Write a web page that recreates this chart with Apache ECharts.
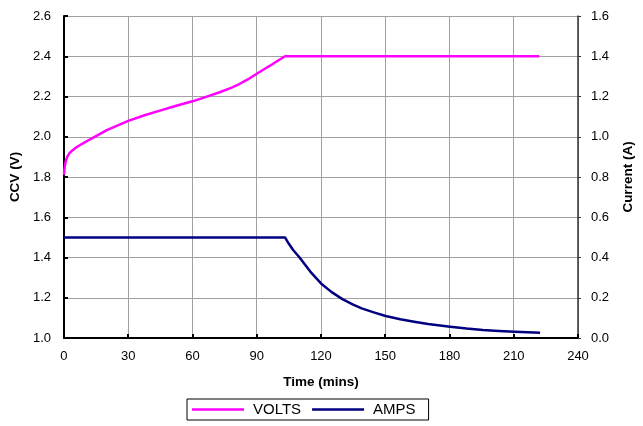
<!DOCTYPE html>
<html>
<head>
<meta charset="utf-8">
<script src="https://cdn.jsdelivr.net/npm/echarts@6/dist/echarts.min.js"></script>
<style>html,body{margin:0;padding:0;background:#fff}#c{width:643px;height:426px}</style>
</head>
<body>
<div id="c"></div>
<script>
// Time (mins) and values
const voltTimes = [0, 0.3, 0.8, 1.5, 2.5, 3.9, 6, 8.5, 11, 13.7, 20, 30, 38, 45.2, 52, 60, 66, 72.7, 78, 81.9, 86, 90, 94, 97.1, 100, 103.2, 120, 150, 180, 210, 222];
const volts     = [1.81, 1.847, 1.877, 1.9, 1.917, 1.932, 1.949, 1.965, 1.98, 1.996, 2.033, 2.079, 2.108, 2.131, 2.153, 2.176, 2.197, 2.221, 2.243, 2.262, 2.286, 2.313, 2.339, 2.359, 2.379, 2.4, 2.4, 2.4, 2.4, 2.4, 2.4];
const ampTimes  = [0, 30, 60, 90, 103.2, 105, 107, 110, 115, 120, 125, 130, 135, 139, 145, 150.2, 157, 163.5, 170, 180.3, 188, 195.6, 203, 210.4, 222.3];
const amps      = [0.5, 0.5, 0.5, 0.5, 0.5, 0.468, 0.437, 0.4, 0.33, 0.271, 0.228, 0.193, 0.166, 0.147, 0.126, 0.109, 0.093, 0.081, 0.07, 0.056, 0.047, 0.04, 0.035, 0.031, 0.026];
const xTicks = [0, 30, 60, 90, 120, 150, 180, 210, 240];

const font = 'Liberation Sans, Arial, sans-serif';
const chart = echarts.init(document.getElementById('c'), null, {renderer: 'canvas'});
chart.setOption({
  animation: false,
  backgroundColor: '#ffffff',
  grid: {left: 63, right: 56, top: 16, bottom: 88, containLabel: false},
  legend: {
    data: ['VOLTS', 'AMPS'],
    top: 399, left: 187,
    borderColor: '#000', borderWidth: 1,
    padding: [3, 13, 3, 5],
    icon: 'rect',
    itemWidth: 52, itemHeight: 2.5, itemGap: 11,
    textStyle: {fontFamily: font, fontSize: 15, color: '#000', padding: [0, 0, 0, 4]}
  },
  xAxis: {
    type: 'value', min: 0, max: 240, interval: 30,
    name: 'Time (mins)', nameLocation: 'middle', nameGap: 37,
    nameTextStyle: {fontFamily: font, fontSize: 13.5, fontWeight: 'bold', color: '#000'},
    axisLine: {show: true, onZero: false, lineStyle: {color: '#000', width: 2}},
    axisTick: {show: true, inside: true, length: 4, lineStyle: {color: '#000', width: 2}},
    axisLabel: {fontFamily: font, fontSize: 13, color: '#000', margin: 12,
      formatter: v => xTicks.includes(v) ? String(v) : ''},
    splitLine: {show: true, lineStyle: {color: '#a0a0a0', width: 1}}
  },
  yAxis: [{
    type: 'value', min: 1.0, max: 2.6, interval: 0.2,
    name: 'CCV (V)', nameLocation: 'middle', nameGap: 41,
    nameTextStyle: {fontFamily: font, fontSize: 13.5, fontWeight: 'bold', color: '#000'},
    axisLine: {show: true, lineStyle: {color: '#000', width: 2}},
    axisTick: {show: true, inside: true, length: 4, lineStyle: {color: '#000', width: 2}},
    axisLabel: {fontFamily: font, fontSize: 13, color: '#000', margin: 13, formatter: v => v.toFixed(1)},
    splitLine: {show: true, lineStyle: {color: '#a0a0a0', width: 1}}
  }, {
    type: 'value', min: 0, max: 1.6, interval: 0.2, position: 'right',
    name: 'Current (A)', nameLocation: 'middle', nameGap: 43,
    nameTextStyle: {fontFamily: font, fontSize: 13.5, fontWeight: 'bold', color: '#000'},
    axisLine: {show: true, lineStyle: {color: '#333', width: 1.5}},
    axisTick: {show: true, length: 3, lineStyle: {color: '#333'}},
    axisLabel: {fontFamily: font, fontSize: 13, color: '#000', margin: 13, formatter: v => v.toFixed(1)},
    splitLine: {show: false}
  }],
  series: [{
    name: 'VOLTS', type: 'line', yAxisIndex: 0, symbol: 'none', smooth: false,
    data: voltTimes.map((t, i) => [t, volts[i]]),
    lineStyle: {color: '#ff00ff', width: 2.5, join: 'round'}, itemStyle: {color: '#ff00ff'}
  }, {
    name: 'AMPS', type: 'line', yAxisIndex: 1, symbol: 'none', smooth: false,
    data: ampTimes.map((t, i) => [t, amps[i]]),
    lineStyle: {color: '#000080', width: 2.5, join: 'round'}, itemStyle: {color: '#000080'}
  }]
});
</script>
</body>
</html>
